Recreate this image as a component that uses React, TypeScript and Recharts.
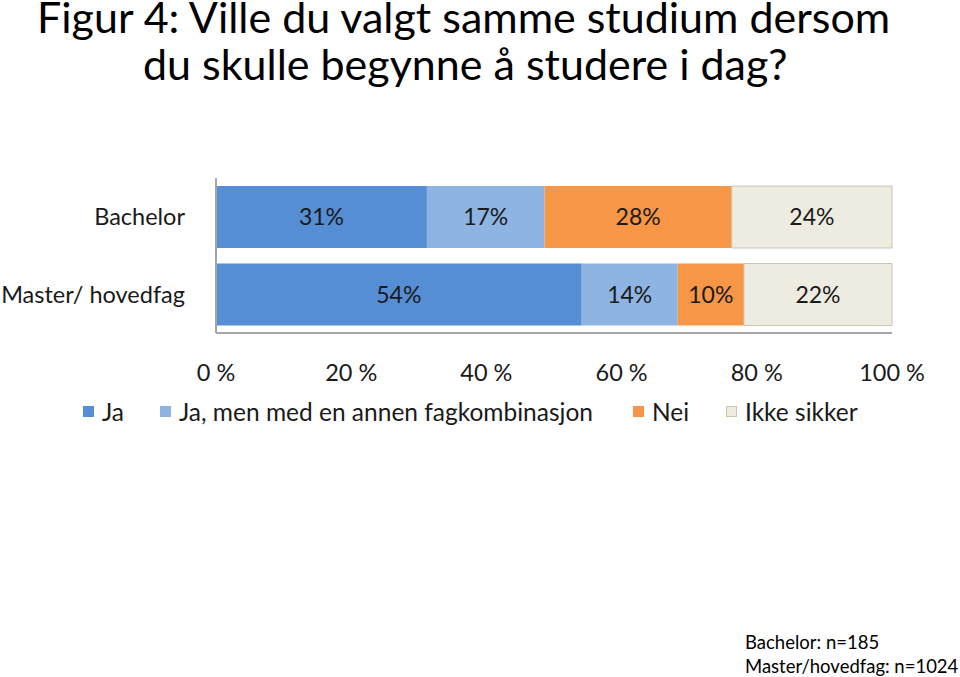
import { BarChart, Bar, XAxis, YAxis, LabelList } from 'recharts';

const categories = ['Bachelor', 'Master/ hovedfag'];
const ja = [31.2, 54.1];
const jaAnnen = [17.4, 14.2];
const nei = [27.7, 9.8];
const ikkeSikker = [23.7, 21.9];
const xTicks = [0, 20, 40, 60, 80, 100];

const SERIES = [
  { key: 'ja', name: 'Ja', values: ja, color: '#558ED5', stroke: 'none' },
  { key: 'jaAnnen', name: 'Ja, men med en annen fagkombinasjon', values: jaAnnen, color: '#8EB4E3', stroke: 'none' },
  { key: 'nei', name: 'Nei', values: nei, color: '#F79646', stroke: 'none' },
  { key: 'ikkeSikker', name: 'Ikke sikker', values: ikkeSikker, color: '#EEECE1', stroke: '#C9C5B5' },
];

const FONT = 'Lato, "Open Sans", sans-serif';

const chartData = categories.map((name, i) => {
  const row: any = { name };
  SERIES.forEach((s) => {
    row[s.key] = s.values[i];
  });
  return row;
});

export default function App() {
  return (
    <div
      style={{
        position: 'absolute',
        left: 0,
        top: 0,
        width: 960,
        height: 677,
        background: '#fff',
        fontFamily: FONT,
        color: '#000',
        overflow: 'hidden',
      }}
    >
      <div style={{ position: 'absolute', left: 37, top: 0, fontSize: 43, lineHeight: '32px', paddingTop: 1, whiteSpace: 'nowrap' }}>
        Figur 4: Ville du valgt samme studium dersom
      </div>
      <div style={{ position: 'absolute', left: 143, top: 48, fontSize: 43, lineHeight: '32px', whiteSpace: 'nowrap' }}>
        du skulle begynne å studere i dag?
      </div>

      <div style={{ position: 'absolute', left: 0, top: 0 }}>
        <BarChart
          width={960}
          height={400}
          data={chartData}
          layout="vertical"
          margin={{ top: 178, right: 68, bottom: 0, left: 0 }}
        >
          <XAxis
            type="number"
            domain={[0, 100]}
            ticks={xTicks}
            tickFormatter={(v) => `${v} %`}
            axisLine={{ stroke: '#A6A6A6', strokeWidth: 2 }}
            tickLine={false}
            tickMargin={25}
            tick={{ fill: '#1a1a1a', fontSize: 23.5, fontFamily: FONT }}
            height={67}
          />
          <YAxis
            type="category"
            dataKey="name"
            width={216}
            axisLine={{ stroke: '#A6A6A6', strokeWidth: 2 }}
            tickLine={false}
            tickMargin={25}
            tick={{ fill: '#1a1a1a', fontSize: 23.5, fontFamily: FONT }}
          />
          {SERIES.map((s) => (
            <Bar
              key={s.key}
              dataKey={s.key}
              name={s.name}
              stackId="a"
              fill={s.color}
              stroke={s.stroke}
              barSize={62}
              isAnimationActive={false}
            >
              <LabelList
                dataKey={s.key}
                position="center"
                formatter={(v: any) => `${Math.round(Number(v))}%`}
                style={{ fill: '#1a1a1a', fontSize: 23, fontFamily: FONT }}
              />
            </Bar>
          ))}
        </BarChart>
      </div>

      {/* Legend */}
      {SERIES.map((s, i) => {
        const lefts = [83, 160, 633, 726];
        return (
          <div
            key={s.key}
            style={{
              position: 'absolute',
              left: lefts[i],
              top: 396,
              height: 30,
              display: 'flex',
              alignItems: 'center',
              fontSize: 24.5,
              whiteSpace: 'nowrap',
              color: '#1a1a1a',
            }}
          >
            <span
              style={{
                display: 'inline-block',
                width: 11,
                height: 11,
                background: s.color,
                border: s.stroke === 'none' ? 'none' : `1px solid ${s.stroke}`,
                boxSizing: 'border-box',
                marginRight: 8,
              }}
            />
            {s.name}
          </div>
        );
      })}

      <div style={{ position: 'absolute', left: 745, top: 630, fontSize: 18.5, lineHeight: '24px', whiteSpace: 'nowrap' }}>
        <div>Bachelor: n=185</div>
        <div>Master/hovedfag: n=1024</div>
      </div>
    </div>
  );
}
